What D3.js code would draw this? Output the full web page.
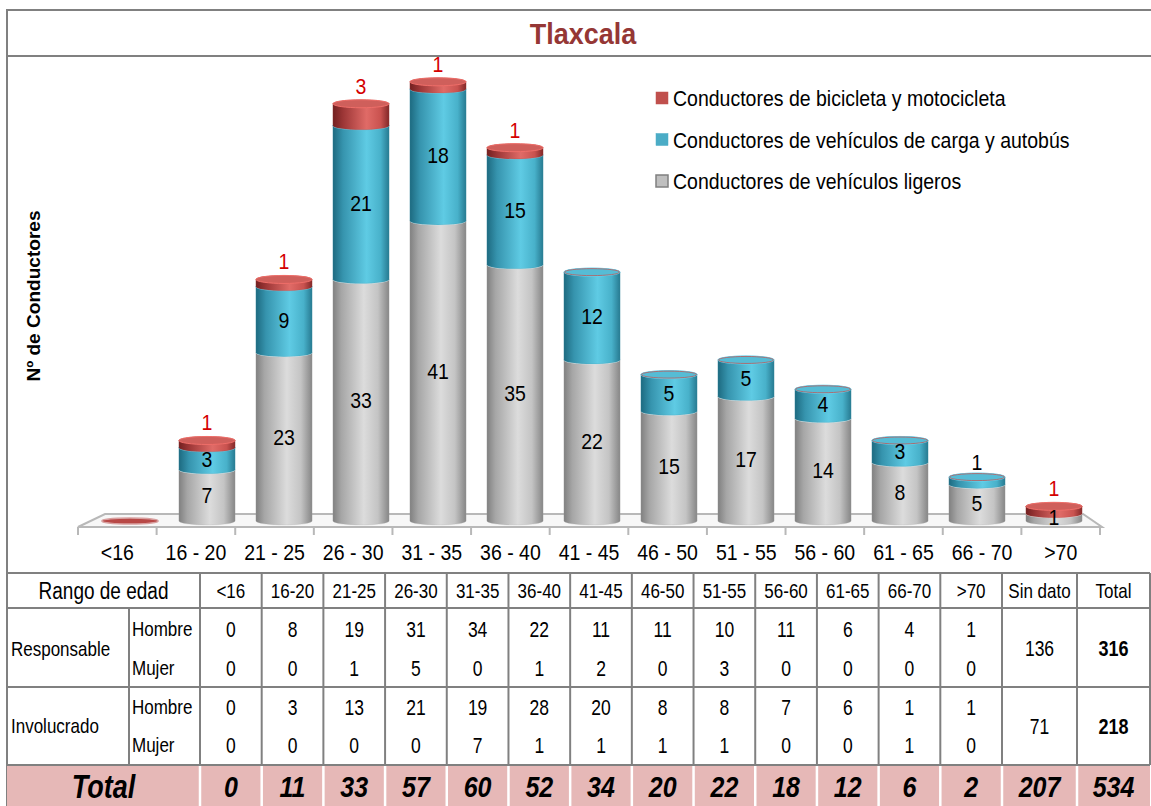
<!DOCTYPE html>
<html><head><meta charset="utf-8">
<script src="https://cdn.jsdelivr.net/npm/d3@7"></script>
<style>
body{margin:0;background:#fff;}
svg{display:block;font-family:"Liberation Sans",Arial,sans-serif;}
</style></head>
<body><svg id="c" width="1151" height="806"></svg>
<script>
// ---- data ----
const title = "Tlaxcala";
const yTitle = "Nº de Conductores";
const categories = ["<16","16 - 20","21 - 25","26 - 30","31 - 35","36 - 40","41 - 45","46 - 50","51 - 55","56 - 60","61 - 65","66 - 70",">70"];
const ligeros = [0,7,23,33,41,35,22,15,17,14,8,5,1];
const carga   = [0,3,9,21,18,15,12,5,5,4,3,1,0];
const bici    = [0,1,1,3,1,1,0,0,0,0,0,0,1];
const seriesNames = ["Conductores de vehículos ligeros","Conductores de vehículos de carga y autobús","Conductores de bicicleta y motocicleta"];
const legendOrder = [2,1,0];

const tableHead = ["<16","16-20","21-25","26-30","31-35","36-40","41-45","46-50","51-55","56-60","61-65","66-70",">70"];
const groups = ["Responsable","Involucrado"];
const sexes = ["Hombre","Mujer"];
const respHombre = [0,8,19,31,34,22,11,11,10,11,6,4,1];
const respMujer  = [0,0,1,5,0,1,2,0,3,0,0,0,0];
const invHombre  = [0,3,13,21,19,28,20,8,8,7,6,1,1];
const invMujer   = [0,0,0,0,7,1,1,1,1,0,0,1,0];
const sinDato = [136,71];
const groupTotals = [316,218];
const totalRow = [0,11,33,57,60,52,34,20,22,18,12,6,2];
const totalSinDato = 207;
const grandTotal = 534;

// ---- setup ----
const svg = d3.select("#c");
const defs = svg.append("defs");
const FONT = '"Liberation Sans",Arial,sans-serif';
function txt(g, x, y, s, o={}) {
  const sy = o.sy || 1.15, size = o.size || 19;
  const t = g.append("text")
    .attr("transform", `translate(${x},${y + 0.358*size*sy}) scale(1,${sy})`)
    .attr("text-anchor", o.anchor || "middle")
    .style("font-size", size + "px")
    .style("font-family", FONT)
    .style("fill", o.fill || "#000")
    .style("font-weight", o.weight || "normal")
    .style("font-style", o.style || "normal")
    .text(s);
  return t;
}

function grad(id, stops) {
  const lg = defs.append("linearGradient").attr("id", id).attr("x1",0).attr("x2",1).attr("y1",0).attr("y2",0);
  stops.forEach(([o,c]) => lg.append("stop").attr("offset", o).attr("stop-color", c));
}
grad("gGray", [[0,"#808080"],[0.15,"#a6a6a6"],[0.55,"#dcdcdc"],[0.8,"#c4c4c4"],[1,"#868686"]]);
grad("gBlue", [[0,"#1d6a80"],[0.18,"#3694ae"],[0.6,"#5fcbe4"],[0.85,"#48b1ca"],[1,"#277a91"]]);
grad("gRed",  [[0,"#722020"],[0.18,"#9c3636"],[0.6,"#e06b67"],[0.85,"#c9524f"],[1,"#822828"]]);
const bodyFill = ["url(#gGray)","url(#gBlue)","url(#gRed)"];
const topFill = ["#d2d2d2","#56bcd5","#cf5f5b"];
const legendFill = ["#bfbfbf","#4bacc6","#c0504d"];

// ---- frame ----
const frameC = "#808080";
svg.append("line").attr("x1",7).attr("x2",1151).attr("y1",10).attr("y2",10).attr("stroke",frameC).attr("stroke-width",2);
svg.append("line").attr("x1",7).attr("x2",1151).attr("y1",56).attr("y2",56).attr("stroke",frameC).attr("stroke-width",2);
svg.append("line").attr("x1",7).attr("x2",7).attr("y1",9).attr("y2",806).attr("stroke",frameC).attr("stroke-width",2);

txt(svg, 583, 33, title, {size:27, weight:"bold", fill:"#953735", sy:1.12});

// ---- chart ----
const xTick = d3.scaleBand().domain(categories).range([78, 1100]);
const xBar = d3.scaleBand().domain(categories).range([91.5, 1092.5]).paddingInner(0.27).paddingOuter(0.135);
const y = d3.scaleLinear().domain([0, 60]).range([521, 521 - 60*7.32]);

// floor
const chart = svg.append("g");
chart.append("path")
  .attr("d", `M${xTick.range()[0]},527 L105,514 L1083,514 L${xTick.range()[1]+2},527 Z`)
  .attr("fill","#f7f7f7").attr("stroke","#b8b8b8").attr("stroke-width",2);
// ticks at band edges
const edges = categories.map(c => xTick(c)).concat([xTick.range()[1]]);
chart.selectAll("line.tk").data(edges).join("line").attr("class","tk")
  .attr("x1",d=>d).attr("x2",d=>d).attr("y1",527).attr("y2",535)
  .attr("stroke","#b8b8b8").attr("stroke-width",2);
// category labels via axis
const ax = chart.append("g").attr("transform","translate(0,545)")
  .call(d3.axisBottom(xTick).tickSize(0).tickPadding(0));
ax.select(".domain").remove();
ax.selectAll("text").remove();
ax.selectAll(".tick").each(function(d){ txt(d3.select(this), 0, 7, d, {size:19.5}); });

// stacked cylinders
const stackData = categories.map((c,i)=>({cat:c, s0:ligeros[i], s1:carga[i], s2:bici[i]}));
const stacked = d3.stack().keys(["s0","s1","s2"])(stackData);
const RY = 4;
function body(x0, w, yT, yB) {
  const rx = w/2;
  return `M${x0},${yT} L${x0},${yB} A${rx},${RY} 0 0 0 ${x0+w},${yB} L${x0+w},${yT} A${rx},${RY} 0 0 0 ${x0},${yT} Z`;
}
const bars = chart.append("g");
categories.forEach((c, i) => {
  const x0 = xBar(c), w = xBar.bandwidth(), cx = x0 + w/2;
  const g = bars.append("g");
  let lastTop = null, lastK = -1;
  stacked.forEach((layer, k) => {
    const [a, b] = layer[i];
    if (b - a <= 0) return;
    g.append("path").attr("d", body(x0, w, y(b), y(a))).attr("fill", bodyFill[k])
      .attr("stroke", d3.color(topFill[k]).darker(0.6)).attr("stroke-width",0.5).attr("stroke-opacity",0.5);
    g.append("ellipse").attr("cx",cx).attr("cy",y(b)).attr("rx",w/2).attr("ry",RY)
      .attr("fill", topFill[k]).attr("stroke", d3.color(topFill[k]).brighter(0.4)).attr("stroke-width",1);
    lastTop = y(b); lastK = k;
  });
  if (lastK < 0) {
    g.append("ellipse").attr("cx",cx).attr("cy",y(0)).attr("rx",w/2).attr("ry",3)
      .attr("fill","#b84846").attr("stroke","#d8a0a0").attr("stroke-width",1.5);
  } else if (lastK < 2) {
    g.append("ellipse").attr("cx",cx).attr("cy",lastTop).attr("rx",w/2-0.5).attr("ry",RY-0.5)
      .attr("fill","none").attr("stroke","#c0504d").attr("stroke-width",1).attr("stroke-opacity",0.75);
  }
  // labels
  stacked.forEach((layer, k) => {
    const [a, b] = layer[i];
    const v = b - a;
    if (v <= 0) return;
    if (k === 2) {
      txt(g, cx, y(b) - 10 - 0.358*19.5*1.15, v, {size:19.5, fill:"#d40000"});
    } else if (y(a) - y(b) < 12 && k === 1) {
      txt(g, cx, y(b) - 7 - 0.358*19.5*1.15, v, {size:19.5});
    } else {
      txt(g, cx, (y(a)+y(b))/2, v, {size:19.5});
    }
  });
});

// y title
svg.append("text").attr("transform","translate(40,296) rotate(-90) scale(1.06,1)")
  .attr("text-anchor","middle").style("font-size","18px").style("font-weight","bold")
  .style("font-family",FONT).text(yTitle);

// legend
const lg = svg.append("g");
legendOrder.forEach((k, j) => {
  const cy = 98 + j*41.5;
  lg.append("rect").attr("x",656).attr("y",cy-6).attr("width",12).attr("height",12)
    .attr("fill",legendFill[k]).attr("stroke", k===0 ? "#808080" : legendFill[k]).attr("stroke-width", k===0?1.5:0.5);
  txt(lg, 673, cy, seriesNames[k], {size:19.5, anchor:"start"});
});

// ---- table ----
const tb = svg.append("g");
const tTop = 573, hB = 608, tMid = 687, tT = 765, tBot = 806;
const ageX0 = 200, ageX1 = 1002;
const colW = (ageX1 - ageX0) / tableHead.length;
const ageLeft = tableHead.map((d,i)=> ageX0 + i*colW);
const sdL = 1002, sdR = 1077, totR = 1150;
const colCenters = ageLeft.map(l => l + colW/2).concat([(sdL+sdR)/2, (sdR+totR)/2]);
// total row background
tb.append("rect").attr("x",7).attr("y",tT).attr("width",totR-7).attr("height",tBot-tT).attr("fill","#e6b8b7");
const TS = 1.22;
// horizontal lines
[tTop, hB, tMid, tT].forEach(yy => tb.append("line").attr("x1",7).attr("x2",totR).attr("y1",yy).attr("y2",yy).attr("stroke",frameC).attr("stroke-width",2));
// vertical lines
const vlines = [7, ...ageLeft, sdL, sdR, totR];
vlines.forEach(xx => {
  tb.append("line").attr("x1",xx).attr("x2",xx).attr("y1",tTop).attr("y2",tT).attr("stroke",frameC).attr("stroke-width",2);
  if (xx > 7 && xx < totR) tb.append("line").attr("x1",xx).attr("x2",xx).attr("y1",tT+1).attr("y2",tBot).attr("stroke","#fff").attr("stroke-width",2.5);
});
tb.append("line").attr("x1",129).attr("x2",129).attr("y1",hB).attr("y2",tT).attr("stroke",frameC).attr("stroke-width",2);

// header
txt(tb, 103.5, 591, "Rango de edad", {size:19, sy:TS});
tableHead.forEach((h,i)=> txt(tb, colCenters[i], 591, h, {size:17, sy:TS}));
txt(tb, colCenters[13], 591, "Sin dato", {size:17, sy:TS});
txt(tb, colCenters[14], 591, "Total", {size:17, sy:TS});

const rowsY = [[629,668],[707,745]];
const rowData = [[respHombre, respMujer],[invHombre, invMujer]];
groups.forEach((gname, gi) => {
  const cy = (rowsY[gi][0] + rowsY[gi][1]) / 2;
  txt(tb, 11, cy, gname, {size:17, sy:TS, anchor:"start"});
  sexes.forEach((s, si) => {
    const ry = rowsY[gi][si];
    txt(tb, 132, ry, s, {size:17, sy:TS, anchor:"start"});
    rowData[gi][si].forEach((v, i) => txt(tb, colCenters[i], ry, v, {size:17.5, sy:TS}));
  });
  txt(tb, colCenters[13], cy, sinDato[gi], {size:17.5, sy:TS});
  txt(tb, colCenters[14], cy, groupTotals[gi], {size:18, sy:TS, weight:"bold"});
});
// total row
const trY = 786;
txt(tb, 103.5, trY, "Total", {size:27, sy:1.2, weight:"bold", style:"italic"});
totalRow.forEach((v,i) => txt(tb, colCenters[i], trY, v, {size:25, sy:1.2, weight:"bold", style:"italic"}));
txt(tb, colCenters[13], trY, totalSinDato, {size:25, sy:1.2, weight:"bold", style:"italic"});
txt(tb, colCenters[14], trY, grandTotal, {size:25, sy:1.2, weight:"bold", style:"italic"});
</script>
</body></html>
